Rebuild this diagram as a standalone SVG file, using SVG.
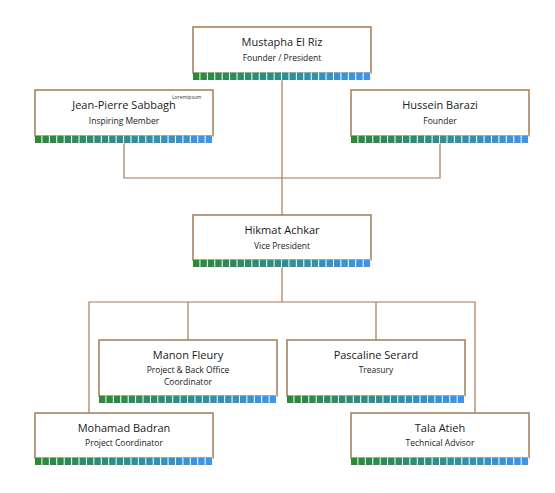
<svg xmlns="http://www.w3.org/2000/svg" width="555" height="493" viewBox="0 0 555 493">
<style>
.box{fill:#fff;stroke:#a37b57;stroke-width:1.5}
.bar{fill:url(#g)}
.sep{stroke:#fff;stroke-width:8;stroke-dasharray:1 6.42}
.name{font-family:"Open Sans","Liberation Sans",sans-serif;font-size:11px;fill:#1a1a1a;text-anchor:middle}
.role{font-family:"Open Sans","Liberation Sans",sans-serif;font-size:8.5px;fill:#1a1a1a;text-anchor:middle}
.tiny{font-family:"Open Sans","Liberation Sans",sans-serif;font-size:5px;fill:#333}
.conn{fill:none;stroke:#a37b57;stroke-width:1.2}
</style>
<defs>
<linearGradient id="g" x1="0" y1="0" x2="1" y2="0">
<stop offset="0" stop-color="#2a8a35"/>
<stop offset="0.5" stop-color="#2a9090"/>
<stop offset="1" stop-color="#3a96f5"/>
</linearGradient>
</defs>
<rect width="555" height="493" fill="#fff"/>
<g id="connectors">
<path class="conn" d="M282 80V215"/>
<path class="conn" d="M124 143V178H440V143"/>
<path class="conn" d="M282 267V302"/>
<path class="conn" d="M89 413V302H475V413"/>
<path class="conn" d="M188 302V340"/>
<path class="conn" d="M376 302V340"/>
</g>
<g id="n-mustapha">
<rect class="box" x="193" y="27" width="178" height="46"/>
<rect class="bar" x="193" y="73" width="178" height="7"/>
<line class="sep" x1="193" y1="76.5" x2="371" y2="76.5" stroke-dashoffset="-6.42"/>
<text class="name" x="282" y="46">Mustapha El Riz</text>
<text class="role" x="282" y="61">Founder / President</text>
</g>
<g id="n-jeanpierre">
<rect class="box" x="35" y="90" width="178" height="46"/>
<rect class="bar" x="35" y="136" width="178" height="7"/>
<line class="sep" x1="35" y1="139.5" x2="213" y2="139.5" stroke-dashoffset="-6.42"/>
<text class="name" x="124" y="109">Jean-Pierre Sabbagh</text>
<text class="tiny" x="172" y="99">Loremipsum</text>
<text class="role" x="124" y="124">Inspiring Member</text>
</g>
<g id="n-hussein">
<rect class="box" x="351" y="90" width="178" height="46"/>
<rect class="bar" x="351" y="136" width="178" height="7"/>
<line class="sep" x1="351" y1="139.5" x2="529" y2="139.5" stroke-dashoffset="-6.42"/>
<text class="name" x="440" y="109">Hussein Barazi</text>
<text class="role" x="440" y="124">Founder</text>
</g>
<g id="n-hikmat">
<rect class="box" x="193" y="215" width="178" height="45"/>
<rect class="bar" x="193" y="260" width="178" height="7"/>
<line class="sep" x1="193" y1="263.5" x2="371" y2="263.5" stroke-dashoffset="-6.42"/>
<text class="name" x="282" y="234">Hikmat Achkar</text>
<text class="role" x="282" y="249">Vice President</text>
</g>
<g id="n-manon">
<rect class="box" x="99" y="340" width="178" height="56"/>
<rect class="bar" x="99" y="396" width="178" height="7"/>
<line class="sep" x1="99" y1="399.5" x2="277" y2="399.5" stroke-dashoffset="-6.42"/>
<text class="name" x="188" y="359">Manon Fleury</text>
<text class="role" x="188" y="373">Project &amp; Back Office</text>
<text class="role" x="188" y="385">Coordinator</text>
</g>
<g id="n-pascaline">
<rect class="box" x="287" y="340" width="178" height="56"/>
<rect class="bar" x="287" y="396" width="178" height="7"/>
<line class="sep" x1="287" y1="399.5" x2="465" y2="399.5" stroke-dashoffset="-6.42"/>
<text class="name" x="376" y="359">Pascaline Serard</text>
<text class="role" x="376" y="373">Treasury</text>
</g>
<g id="n-mohamad">
<rect class="box" x="35" y="413" width="178" height="45"/>
<rect class="bar" x="35" y="458" width="178" height="7"/>
<line class="sep" x1="35" y1="461.5" x2="213" y2="461.5" stroke-dashoffset="-6.42"/>
<text class="name" x="124" y="432">Mohamad Badran</text>
<text class="role" x="124" y="446">Project Coordinator</text>
</g>
<g id="n-tala">
<rect class="box" x="351" y="413" width="178" height="45"/>
<rect class="bar" x="351" y="458" width="178" height="7"/>
<line class="sep" x1="351" y1="461.5" x2="529" y2="461.5" stroke-dashoffset="-6.42"/>
<text class="name" x="440" y="432">Tala Atieh</text>
<text class="role" x="440" y="446">Technical Advisor</text>
</g>
</svg>
